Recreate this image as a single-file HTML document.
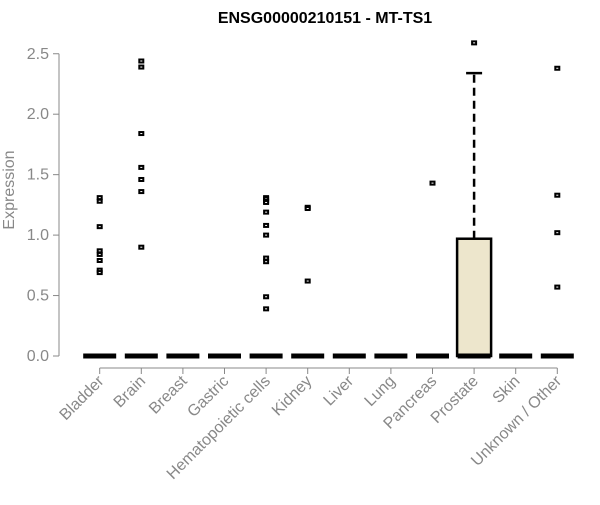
<!DOCTYPE html>
<html><head><meta charset="utf-8"><style>body{margin:0;background:#fff}svg{font-family:"Liberation Sans",Arial,sans-serif}</style></head>
<body>
<svg id="c" width="600" height="500">
<text x="325" y="23" text-anchor="middle" font-weight="bold" font-size="16">ENSG00000210151 - MT-TS1</text>
<text transform="translate(14,190) rotate(-90)" text-anchor="middle" font-size="16" fill="#888">Expression</text>
</svg>
<script>
const categories=["Bladder","Brain","Breast","Gastric","Hematopoietic cells","Kidney","Liver","Lung","Pancreas","Prostate","Skin","Unknown / Other"];
const q3Values=[0,0,0,0,0,0,0,0,0,0.97,0,0];
const whiskerHigh=[0,0,0,0,0,0,0,0,0,2.34,0,0];
const outliers=[[1.31,1.28,1.07,0.87,0.84,0.79,0.71,0.69],[2.44,2.39,1.84,1.56,1.46,1.36,0.90],[],[],[1.31,1.30,1.28,1.27,1.19,1.08,1.00,0.81,0.78,0.49,0.39],[1.23,1.22,0.62],[],[],[1.43],[2.59],[],[2.38,1.33,1.02,0.57]];
const yTicks=[0,0.5,1.0,1.5,2.0,2.5];
const NS="http://www.w3.org/2000/svg",svg=document.getElementById('c');
const y=v=>356-v*120.9, x=i=>99.7+i*41.6;
function mk(t,a,p){const e=document.createElementNS(NS,t);for(const k in a)e.setAttribute(k,a[k]);(p||svg).appendChild(e);return e;}
let ax=mk('line',{x1:59,x2:59,y1:y(0),y2:y(2.5),stroke:'#888'});

yTicks.forEach(v=>{mk('line',{x1:53,x2:59,y1:y(v),y2:y(v),stroke:'#888'});
const t=mk('text',{x:49,y:y(v)+5,'text-anchor':'end','font-size':16,fill:'#888'});t.textContent=v.toFixed(1);
});
let xa=mk('line',{x1:x(0),x2:x(categories.length-1),y1:368,y2:368,stroke:'#888'});

categories.forEach((c,i)=>{const cx=x(i);
mk('line',{x1:cx,x2:cx,y1:368,y2:374,stroke:'#888'});
const t=mk('text',{transform:`translate(${cx+5},${382}) rotate(-45)`,'text-anchor':'end','font-size':16,fill:'#888'});t.textContent=c;

const g=mk('g',{});
if(q3Values[i]>0){
mk('line',{x1:cx,x2:cx,y1:y(q3Values[i]),y2:y(whiskerHigh[i]),stroke:'#000','stroke-width':2.5,'stroke-dasharray':'8,5'},g);
mk('line',{x1:cx-8,x2:cx+8,y1:y(whiskerHigh[i]),y2:y(whiskerHigh[i]),stroke:'#000','stroke-width':2.5},g);
mk('rect',{x:cx-17,y:y(q3Values[i]),width:34,height:y(0)-y(q3Values[i]),fill:'#ede6cc',stroke:'#000','stroke-width':2.5},g);}
mk('line',{x1:cx-16.5,x2:cx+16.5,y1:y(0),y2:y(0),stroke:'#000','stroke-width':5},g);
outliers[i].forEach(v=>{const p=mk('rect',{x:cx-2,y:y(v)-1.5,width:4,height:3,fill:'#fff',stroke:'#000','stroke-width':2},g);
});
});
</script>
</body></html>
